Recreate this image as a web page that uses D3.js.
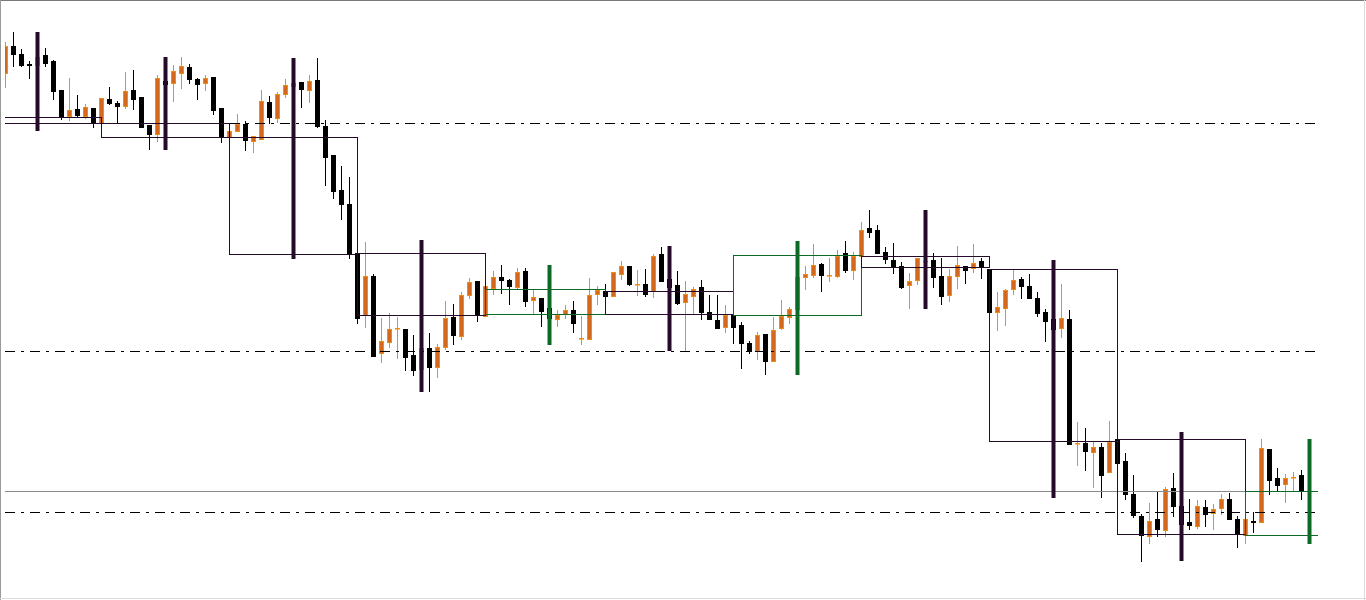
<!DOCTYPE html>
<html><head><meta charset="utf-8">
<script src="https://cdn.jsdelivr.net/npm/d3@7/dist/d3.min.js"></script>
<style>html,body{margin:0;padding:0;background:#fff;overflow:hidden;} svg{display:block;}</style>
</head><body>
<svg id="chart" width="1366" height="600"></svg>
<script>
// ---- candle data (price points) ----
const openV = [
527,554,546,536,535,545,539,510,484,491,
484,492,477,501,497,494,510,503,475,466,
519,517,527,533,521,517,523,492,463,469,
476,459,461,498,482,506,514,518,510,520,
474,445,410,396,347,285,324,247,258,272,
271,245,231,252,233,253,283,264,305,319,
284,312,323,320,313,329,300,302,292,281,
286,290,262,261,306,309,304,326,334,316,
316,309,346,321,315,298,304,313,288,280,
273,285,275,257,249,266,239,272,283,291,
323,325,336,325,324,347,330,344,372,370,
348,340,334,315,320,339,340,324,305,324,
334,332,339,331,288,292,311,321,314,302,
288,281,272,281,157,157,148,153,128,161,
139,106,84,64,81,70,112,94,78,74,
93,87,92,101,81,65,79,78,151,122,
116,123,125];
const highV = [
558,568,551,539,543,552,540,510,522,505,
496,492,502,513,499,528,530,503,475,525,
522,535,543,536,522,525,523,492,469,486,
479,464,510,504,508,521,517,518,525,542,
480,445,434,423,347,358,326,282,287,283,
271,265,252,267,256,299,296,308,322,319,
314,329,335,321,332,332,310,302,292,290,
295,299,284,322,314,316,328,339,334,330,
331,346,353,321,329,319,313,320,305,305,
295,285,278,259,268,266,283,300,293,323,
334,356,337,342,350,359,348,378,390,375,
353,357,338,327,342,340,347,342,331,354,
334,356,342,331,308,311,330,323,326,308,
291,340,316,290,178,172,158,157,179,161,
147,125,86,97,109,113,127,168,101,100,
100,96,106,107,84,81,88,161,151,132,
126,128,130];
const lowV = [
513,534,534,522,535,534,501,481,480,484,
482,473,477,496,478,492,491,473,451,459,
514,499,512,517,501,510,486,458,463,469,
450,448,461,477,478,503,514,493,498,473,
415,402,381,342,277,273,244,238,253,242,
230,225,231,209,223,251,256,261,302,279,
284,306,307,296,311,294,287,274,282,274,
282,268,256,261,296,304,304,321,315,305,
304,303,319,313,296,250,287,281,281,272,
268,257,232,247,241,226,239,271,277,291,
311,323,309,319,323,328,321,344,363,347,
337,327,312,292,316,338,313,296,299,312,
317,328,322,288,270,275,306,302,302,284,
259,271,263,156,135,130,113,103,128,137,
101,83,39,57,64,64,84,70,71,72,
74,71,86,81,53,57,68,78,106,109,
98,109,101];
const closeV = [
554,546,535,535.5,543,537,509,484,490,485,
493,477,502,497,494,509,501,473,466,522,
516,529,534,521,516,522,490,464,469,476,
460,464,499,483,506,515,517,511,519,474,
443,409,396,346,282,324,244,259,271,272,
243,230,252,233,253,282,265,305,318,285,
314,323,320,314,328,299,303,289,282,285,
290,277,262,305,310,304,328,334,316,316,
306,344,319,313,297,306,311,288,281,272,
285,273,257,249,265,239,270,284,291,323,
326,335,325,325,344,330,344,370,368,347,
341,333,313,319,342,339,323,304,324,335,
330,337,333,288,293,310,320,314,302,287,
279,271,282,156,157,149,153,125,158,137,
106,85,65,79,71,111,94,76,75,94,
86,91,101,81,66,81,78.5,152,120,115,
122,123,109];

// ---- higher-timeframe periods (start / end bar index, OHLC) ----
const htfStart = [-4, 12, 28, 44, 60, 75, 91, 107, 123, 139, 155];
const htfEnd   = [12, 28, 44, 60, 75, 91, 107, 123, 139, 155, 171];
const htfOpen  = [483, 477, 463, 347, 286, 309, 285, 344, 331, 161, 65];
const htfHigh  = [568, 543, 542, 360, 335, 354, 359, 390, 340, 168, 161];
const htfLow   = [470, 451, 342, 209, 256, 250, 226, 292, 103, 40, 57];
const htfClose = [477, 463, 346, 285, 311, 286, 345, 333, 159, 66, 109];

// ---- horizontal levels ----
const levelValues = [477, 249, 88];

// ---- layout ----
const W = 1366, H = 600;
const plotLeft = 5, plotRight = 1318;
const n = openV.length;
const candles = d3.range(n).map(i => ({i, o: openV[i], h: highV[i], l: lowV[i], c: closeV[i]}));
const htf = htfStart.map((s, k) => ({s, e: htfEnd[k], o: htfOpen[k], h: htfHigh[k], l: htfLow[k], c: htfClose[k]}));

const x = d3.scaleLinear().domain([0, n - 1]).range([5.5, 5.5 + 8 * (n - 1)]);
const y = d3.scaleLinear().domain([0, 600]).range([600, 0]);

const svg = d3.select('#chart');
svg.append('rect').attr('width', W).attr('height', H).attr('fill', '#ffffff');
svg.append('defs').append('clipPath').attr('id', 'plot')
  .append('rect').attr('x', plotLeft).attr('y', 0).attr('width', plotRight - plotLeft).attr('height', H);

const g = svg.append('g').attr('clip-path', 'url(#plot)');

const BULL_FILL = '#d2691e', BULL_EDGE = '#f38a12', BEAR = '#000000';
const PURPLE = '#260a2a', GREEN = '#0b6b26';
const px = v => Math.round(y(v));

// candles
const cg = g.append('g');
candles.forEach(d => {
  const bull = d.c >= d.o;
  const cx = x(d.i);
  cg.append('line')
    .attr('x1', cx).attr('x2', cx)
    .attr('y1', px(d.h)).attr('y2', px(d.l) + 1)
    .attr('stroke', bull ? BULL_EDGE : BEAR).attr('stroke-width', 1);
  const top = px(Math.max(d.o, d.c)), bot = px(Math.min(d.o, d.c));
  cg.append('rect')
    .attr('x', cx - 2).attr('width', 4)
    .attr('y', top + 0.5).attr('height', Math.max(bot - top, 0.5))
    .attr('fill', bull ? BULL_FILL : BEAR)
    .attr('stroke', bull ? BULL_EDGE : BEAR).attr('stroke-width', 1);
});

// horizontal dash-dot levels
levelValues.forEach(v => {
  g.append('line')
    .attr('x1', plotLeft).attr('x2', plotRight)
    .attr('y1', px(v) + 0.5).attr('y2', px(v) + 0.5)
    .attr('stroke', '#000').attr('stroke-width', 1)
    .attr('stroke-dasharray', '10,6,3,6');
});

// bid line (last close)
g.append('line')
  .attr('x1', plotLeft).attr('x2', plotRight)
  .attr('y1', px(closeV[n - 1]) + 0.5).attr('y2', px(closeV[n - 1]) + 0.5)
  .attr('stroke', '#8a8a8a').attr('stroke-width', 1);

// higher-timeframe boxes
htf.forEach(d => {
  const col = d.c > d.o ? GREEN : PURPLE;
  const x0 = Math.floor(x(d.s)) + 0.5, x1 = Math.floor(x(d.e)) + 0.5;
  const t = px(Math.max(d.o, d.c)) + 0.5, b = px(Math.min(d.o, d.c)) + 0.5;
  g.append('rect').attr('x', x0).attr('y', t).attr('width', x1 - x0).attr('height', b - t)
    .attr('fill', 'none').attr('stroke', col).attr('stroke-width', 1);
});
// higher-timeframe wicks (thick bars)
htf.forEach(d => {
  const col = d.c > d.o ? GREEN : PURPLE;
  const cx = x(d.s + 8);
  g.append('rect').attr('x', cx - 2).attr('width', 4)
    .attr('y', px(d.h)).attr('height', px(d.l) - px(d.h) + 1)
    .attr('fill', col);
});

// frame
svg.append('line').attr('x1', 0).attr('x2', W).attr('y1', 0.5).attr('y2', 0.5).attr('stroke', '#7a7a7a');
svg.append('line').attr('x1', 0.5).attr('x2', 0.5).attr('y1', 0).attr('y2', H).attr('stroke', '#9a9a9a');
svg.append('line').attr('x1', W - 1.5).attr('x2', W - 1.5).attr('y1', 0).attr('y2', H).attr('stroke', '#dcdcdc');
svg.append('line').attr('x1', 0).attr('x2', W).attr('y1', H - 1.5).attr('y2', H - 1.5).attr('stroke', '#dcdcdc');
</script>
</body></html>
